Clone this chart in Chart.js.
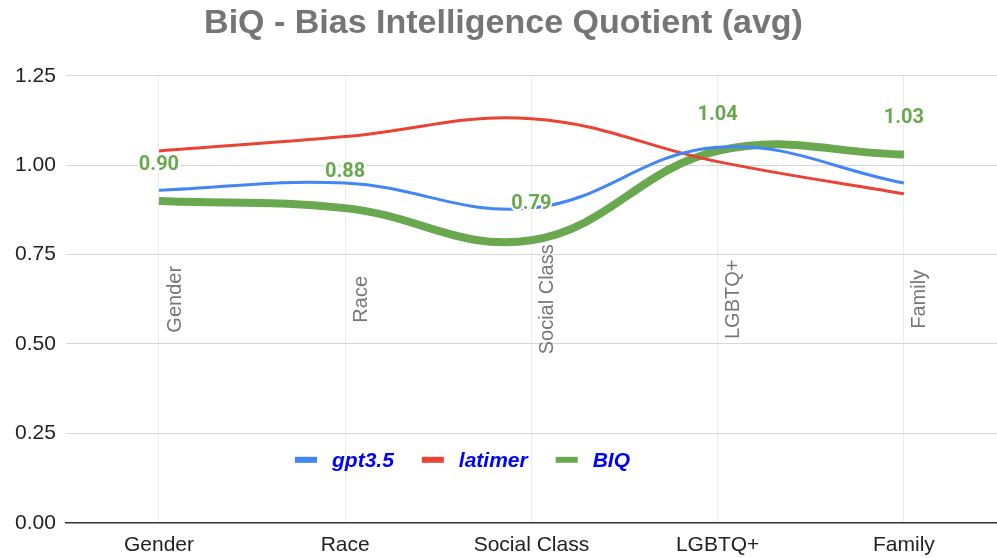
<!DOCTYPE html>
<html>
<head>
<meta charset="utf-8">
<script src="https://cdn.jsdelivr.net/npm/chart.js@4/dist/chart.umd.min.js"></script>
<style>
  html, body { margin: 0; padding: 0; background: #fff; }
  #wrap { width: 997px; height: 558px; }
</style>
</head>
<body>
<div id="wrap"><canvas id="chart"></canvas></div>
<script>
// chart data
const categories = ['Gender', 'Race', 'Social Class', 'LGBTQ+', 'Family'];
const gpt35 = [0.93, 0.95, 0.88, 1.05, 0.95];
const latimer = [1.04, 1.08, 1.13, 1.01, 0.92];
const biq = [0.90, 0.88, 0.79, 1.04, 1.03];
const yTicks = [0, 0.25, 0.5, 0.75, 1.0, 1.25];

const BLUE = '#4285f4', RED = '#ea4335', GREEN = '#6aa84f';
const FONT = '"Liberation Sans", Arial, sans-serif';

// rotated category names inside the plot + value labels for BiQ + legend
const extras = {
    id: 'extras',
    beforeDatasetsDraw(chart) {
        const ctx = chart.ctx;
        const x = chart.scales.x, y = chart.scales.y;
        ctx.save();
        ctx.font = '20px ' + FONT;
        ctx.fillStyle = '#777';
        ctx.textAlign = 'center';
        ctx.textBaseline = 'middle';
        categories.forEach((c, i) => {
            ctx.save();
            ctx.translate(x.getPixelForValue(i) + 16, y.getPixelForValue(0.625));
            ctx.rotate(-Math.PI / 2);
            ctx.fillText(c, 0, 0);
            ctx.restore();
        });
        ctx.restore();
    },
    afterDatasetsDraw(chart) {
        const ctx = chart.ctx;
        const meta = chart.getDatasetMeta(2);
        ctx.save();
        ctx.font = 'bold 20px "Roboto", ' + FONT;
        ctx.textAlign = 'center';
        ctx.textBaseline = 'middle';
        ctx.lineJoin = 'round';
        meta.data.forEach((pt, i) => {
            const t = biq[i].toFixed(2);
            ctx.strokeStyle = '#fff';
            ctx.lineWidth = 4;
            ctx.strokeText(t, pt.x, pt.y - 36);
            ctx.fillStyle = GREEN;
            ctx.fillText(t, pt.x, pt.y - 36);
        });
        // legend inside the plot
        const area = chart.chartArea;
        const items = chart.data.datasets;
        ctx.font = 'italic bold 21px ' + FONT;
        ctx.textAlign = 'left';
        let lx = 295;
        const ly = area.bottom - 63;
        items.forEach(ds => {
            ctx.fillStyle = ds.borderColor;
            ctx.fillRect(lx, ly - 3, 22, 6);
            ctx.fillStyle = '#0000ff';
            ctx.fillText(ds.label, lx + 37, ly + 1);
            lx += 37 + ctx.measureText(ds.label).width + 28;
        });
        ctx.restore();
    }
};

const ctx = document.getElementById('chart').getContext('2d');
const chart = new Chart(ctx, {
    type: 'line',
    data: {
        labels: categories,
        datasets: [
            { label: 'gpt3.5', data: gpt35, borderColor: BLUE, borderWidth: 3, tension: 0.4, pointRadius: 0 },
            { label: 'latimer', data: latimer, borderColor: RED, borderWidth: 3, tension: 0.4, pointRadius: 0 },
            { label: 'BIQ', data: biq, borderColor: GREEN, borderWidth: 8, tension: 0.4, pointRadius: 0 }
        ]
    },
    options: {
        responsive: true,
        maintainAspectRatio: false,
        animation: false,
        layout: { padding: { top: 2, right: -5, left: 5, bottom: -10 } },
        scales: {
            x: {
                offset: true,
                grid: { color: '#ebebeb', drawTicks: false, offset: false },
                border: { color: '#333', width: 1.5 },
                ticks: { color: '#222', font: { size: 21, family: FONT }, padding: 10 }
            },
            y: {
                min: 0,
                max: 1.25,
                afterBuildTicks: axis => { axis.ticks = yTicks.map(v => ({ value: v })); },
                grid: { color: '#d6d6d6', drawTicks: false },
                border: { display: false },
                ticks: {
                    color: '#222',
                    padding: 10,
                    font: { size: 21, family: FONT },
                    callback: v => Number(v).toFixed(2)
                }
            }
        },
        plugins: {
            legend: { display: false },
            tooltip: { enabled: false },
            title: {
                display: true,
                text: 'BiQ - Bias Intelligence Quotient (avg)',
                color: '#757575',
                font: { size: 34, weight: 'bold', family: FONT },
                padding: { top: 1, bottom: 32 }
            }
        }
    },
    plugins: [extras]
});
</script>
</body>
</html>
